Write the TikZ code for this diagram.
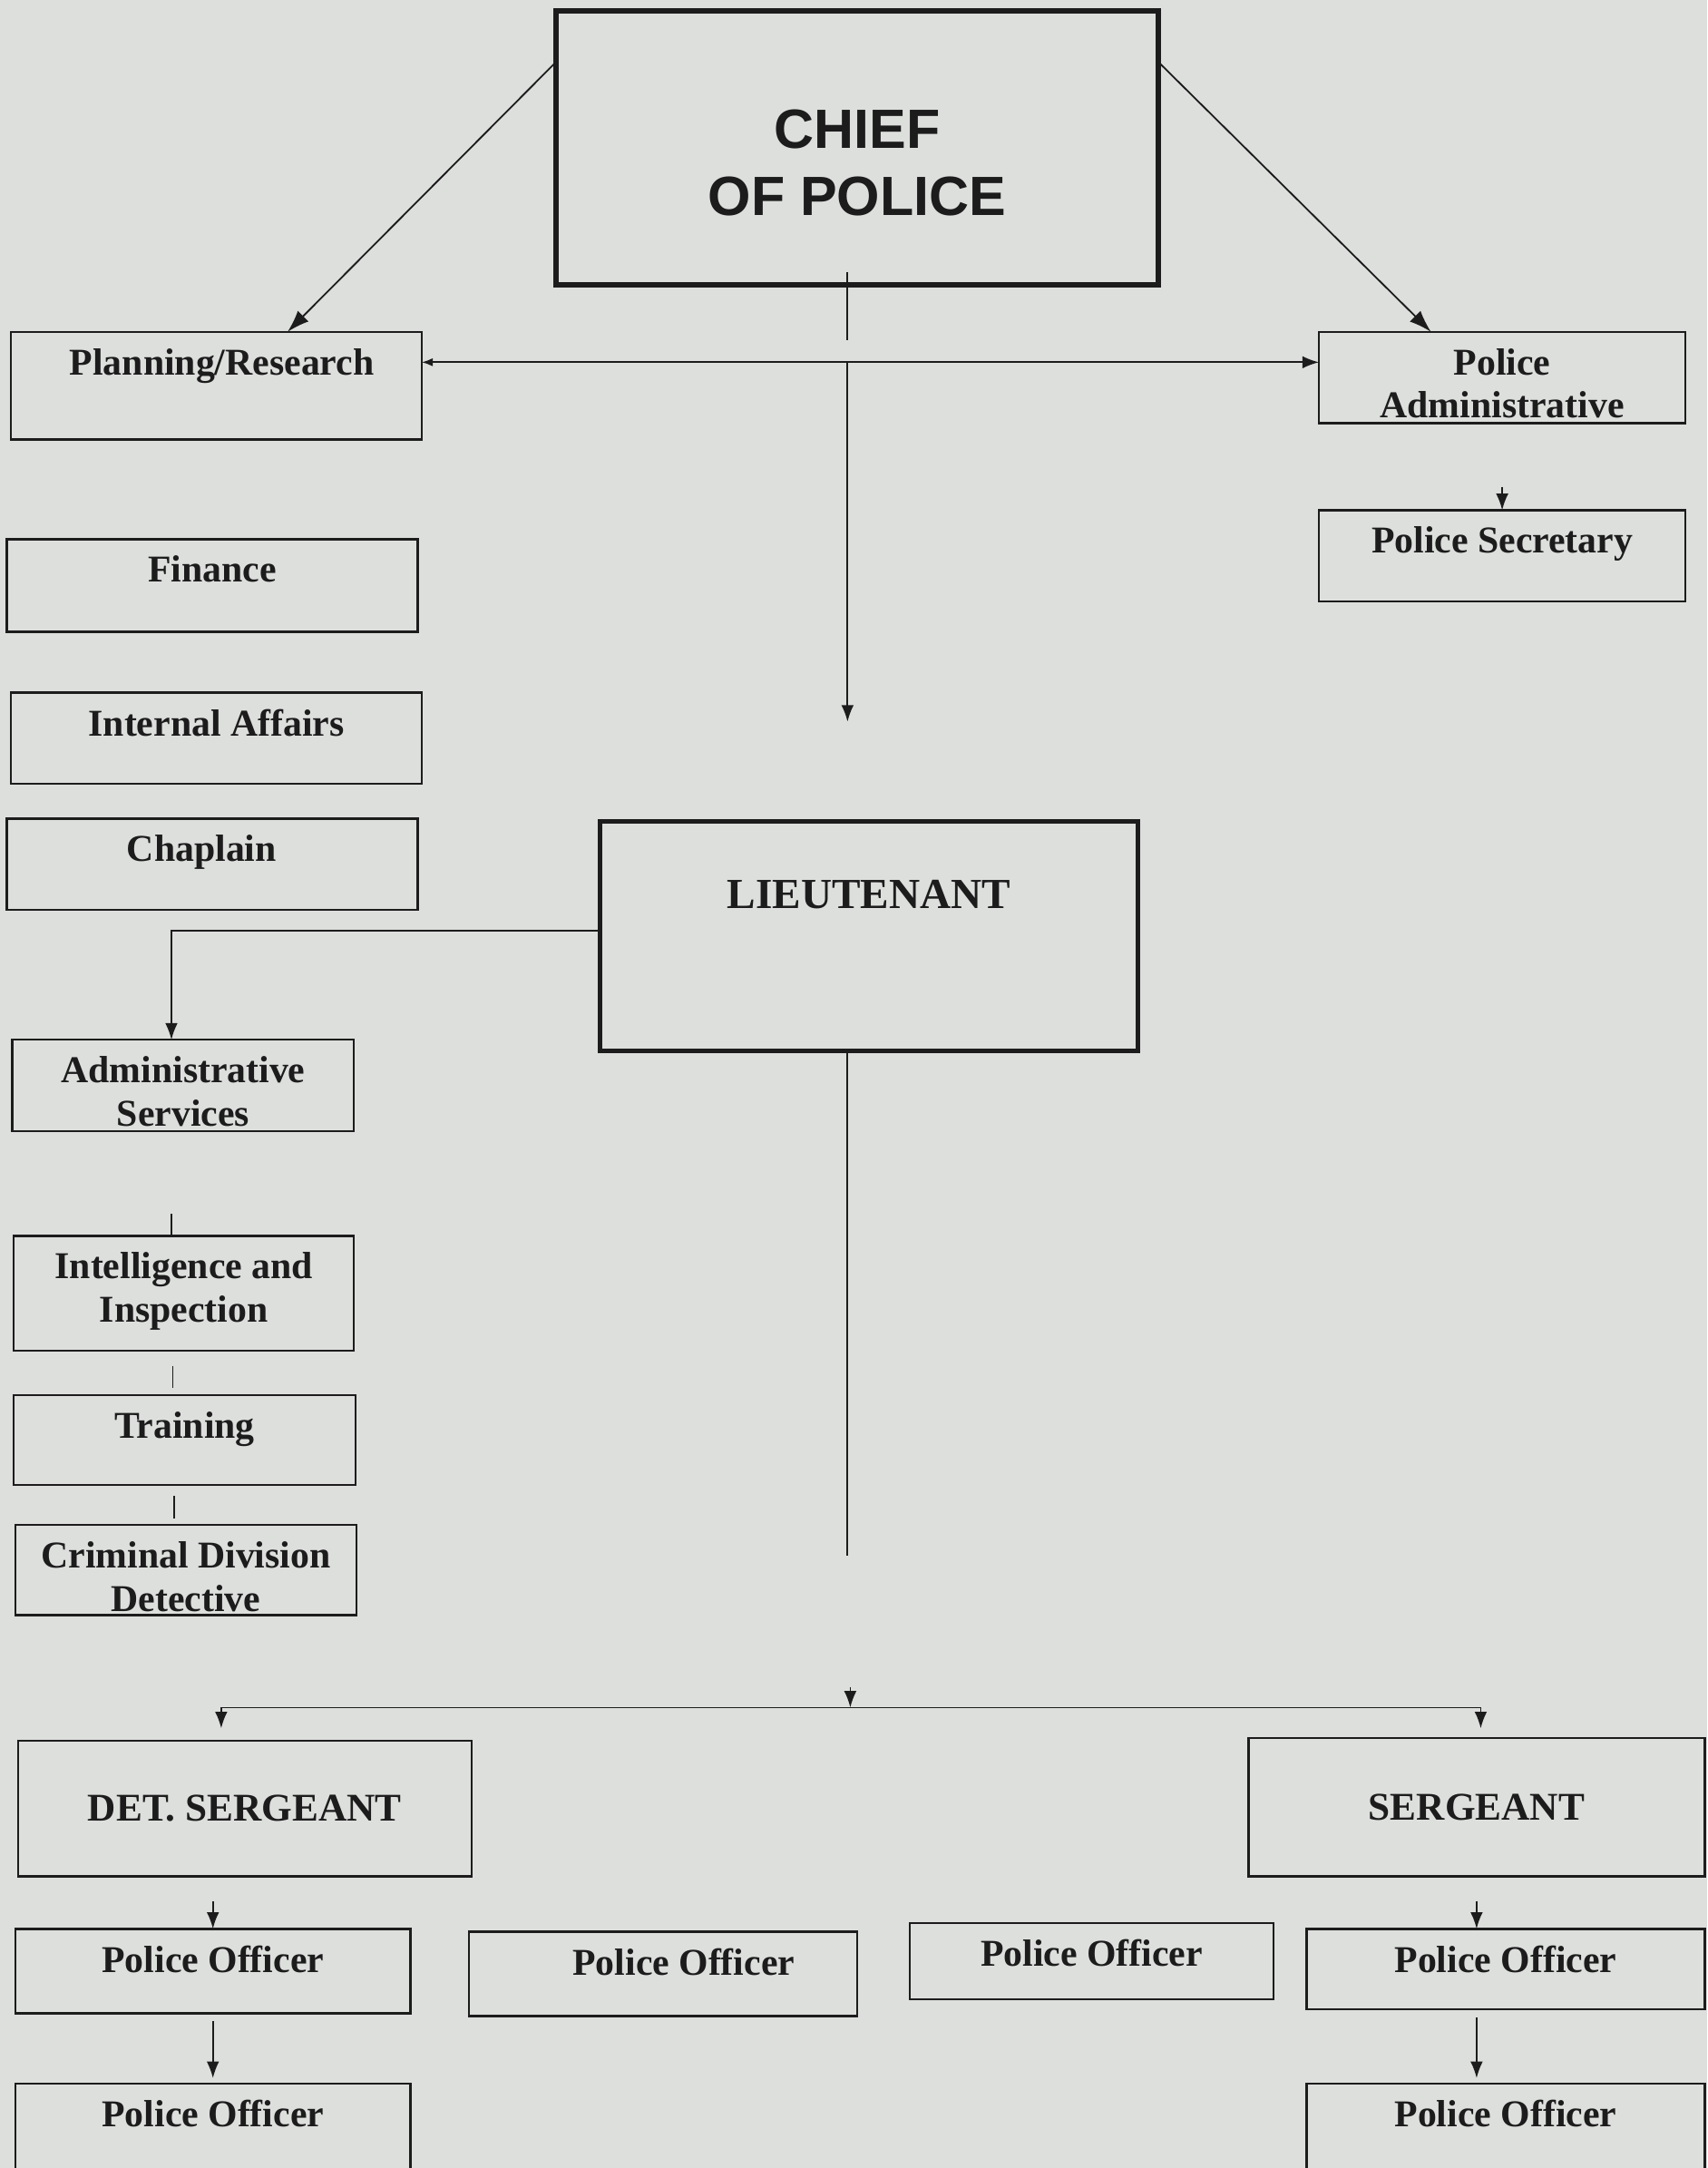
\documentclass[tikz,border=0pt]{standalone}
\usepackage{fontspec}
\setmainfont{Liberation Serif}
\newfontfamily\chieffont{Liberation Sans}
\usetikzlibrary{arrows.meta}
\definecolor{paper}{RGB}{221,223,221}
\definecolor{ink}{RGB}{28,28,28}
\tikzset{
  box/.style={draw=ink, line width=0.8pt, anchor=north west, inner sep=0pt, outer sep=0pt},
  headbox/.style={box, line width=1.9pt},
  txt/.style={font=\bfseries\fontsize{13.7}{15.6}\selectfont, text=ink, align=center, inner sep=0pt},
  toptext/.style={label={[txt, anchor=north, yshift=-5.8pt]north:#1}},
  link/.style={draw=ink, line width=0.6pt},
  tip/.style={link, -{Latex[length=6pt, width=4.5pt]}},
  bigtip/.style={link, -{Latex[length=8pt, width=5.5pt]}},
}
\begin{document}
\begin{tikzpicture}[x=0.5pt, y=-0.5pt]
  \fill[paper] (0,0) rectangle (1235,1568);
  \useasboundingbox (0,0) rectangle (1235,1568);
  % top level
  \node[headbox, minimum width=218pt, minimum height=99pt,
    label={[txt, font=\chieffont\bfseries\fontsize{20}{24}\selectfont, anchor=north, yshift=-35.6pt]north:CHIEF\\OF POLICE}] (chief) at (402,8) {};
  \node[box, minimum width=148.5pt, minimum height=39pt,
    label={[txt, anchor=north, xshift=2pt, yshift=-5.8pt]north:Planning/Research}] (plan) at (8,240) {};
  \node[box, minimum width=132.5pt, minimum height=33pt, toptext={Police\\Administrative}] (admin) at (954,240) {};
  \node[box, minimum width=132.5pt, minimum height=33pt, toptext=Police Secretary] (sec) at (954,369) {};
  \node[box, minimum width=148.5pt, minimum height=33.5pt, toptext=Finance] (fin) at (5,390) {};
  \node[box, minimum width=148.5pt, minimum height=33pt, toptext=Internal Affairs] (ia) at (8,501) {};
  \node[box, minimum width=148.5pt, minimum height=33pt,
    label={[txt, anchor=north, xshift=-3.8pt, yshift=-5.8pt]north:Chaplain}] (chap) at (5,592) {};
  % lieutenant and staff
  \node[headbox, minimum width=194.5pt, minimum height=83pt,
    label={[txt, font=\bfseries\fontsize{15.5}{18}\selectfont, anchor=north, yshift=-21.2pt]north:LIEUTENANT}] (lt) at (434,594) {};
  \node[box, minimum width=123.5pt, minimum height=33pt, toptext={Administrative\\Services}] (ads) at (9,752) {};
  \node[box, minimum width=123pt, minimum height=41.5pt, toptext={Intelligence and\\Inspection}] (intel) at (10,894) {};
  \node[box, minimum width=123.5pt, minimum height=32.5pt, toptext=Training] (train) at (10,1009) {};
  \node[box, minimum width=123.5pt, minimum height=32.5pt, toptext={Criminal Division\\Detective}] (crim) at (11,1103) {};
  % sergeants and officers
  \node[box, txt, minimum width=164pt, minimum height=49pt, font=\bfseries\fontsize{14.2}{17}\selectfont] (dets) at (13,1259) {DET. SERGEANT};
  \node[box, txt, minimum width=165pt, minimum height=50pt, font=\bfseries\fontsize{14.2}{17}\selectfont] (serg) at (903,1257) {SERGEANT};
  \node[box, minimum width=143pt, minimum height=30.5pt, toptext=Police Officer] (po1) at (11,1395) {};
  \node[box, minimum width=140.5pt, minimum height=30.5pt,
    label={[txt, anchor=north, xshift=7.5pt, yshift=-5.8pt]north:Police Officer}] (po2) at (339,1397) {};
  \node[box, minimum width=131.5pt, minimum height=27.5pt, toptext=Police Officer] (po3) at (658,1391) {};
  \node[box, minimum width=144pt, minimum height=29pt, toptext=Police Officer] (po4) at (945,1395) {};
  \node[box, minimum width=143pt, minimum height=35pt, toptext=Police Officer] (po5) at (11,1507) {};
  \node[box, minimum width=144pt, minimum height=35pt, toptext=Police Officer] (po6) at (945,1507) {};
  % connectors
  \coordinate (hub) at (613,262);
  \coordinate (ltin) at (613,522);
  \coordinate (ltout) at (613,1125);
  \coordinate (split) at (615,1235);
  \draw[bigtip] ([yshift=31pt]chief.west) -- ([xshift=25.75pt]plan.north);
  \draw[bigtip] ([yshift=31pt]chief.east) -- ([xshift=-25.75pt]admin.north);
  \draw[link, shorten <=-4.5pt] (chief.south -| hub) -- ([yshift=8pt]hub);
  \draw[link, {Latex[length=4pt, width=3pt]}-{Latex[length=6pt, width=4.5pt]}] (plan.east |- hub) -- (admin.west |- hub);
  \draw[tip] (hub) -- (ltin);
  \draw[tip] ([yshift=8.5pt]sec.north) -- (sec.north);
  \draw[tip] ([yshift=2pt]lt.west) -| ([xshift=-4.25pt]ads.north);
  \draw[link] ([xshift=-4.5pt, yshift=8pt]intel.north) -- ([xshift=-4.5pt, yshift=0.5pt]intel.north);
  \draw[link] ([xshift=-4.25pt, yshift=10.5pt]train.north) -- ([xshift=-4.25pt, yshift=2.5pt]train.north);
  \draw[link] ([xshift=-4.25pt, yshift=10.5pt]crim.north) -- ([xshift=-4.25pt, yshift=2.5pt]crim.north);
  \draw[link] (lt.south -| ltout) -- (ltout);
  \draw[tip] ([yshift=7.5pt]split) -- (split);
  \draw[tip, shorten >=4.5pt] (split) -| ([xshift=-8.5pt]dets.north);
  \draw[tip, shorten >=3.5pt] (split) -| ([xshift=1.5pt]serg.north);
  \draw[tip, shorten <=9pt] (dets.south -| po1.north) -- (po1.north);
  \draw[tip, shorten <=3pt, shorten >=2pt] (po1.south) -- (po5.north);
  \draw[tip, shorten <=9pt] (serg.south) -- (serg.south |- po4.north);
  \draw[tip, shorten <=3pt, shorten >=2pt] (po4.south -| serg.south) -- (po6.north -| serg.south);
\end{tikzpicture}
\end{document}
